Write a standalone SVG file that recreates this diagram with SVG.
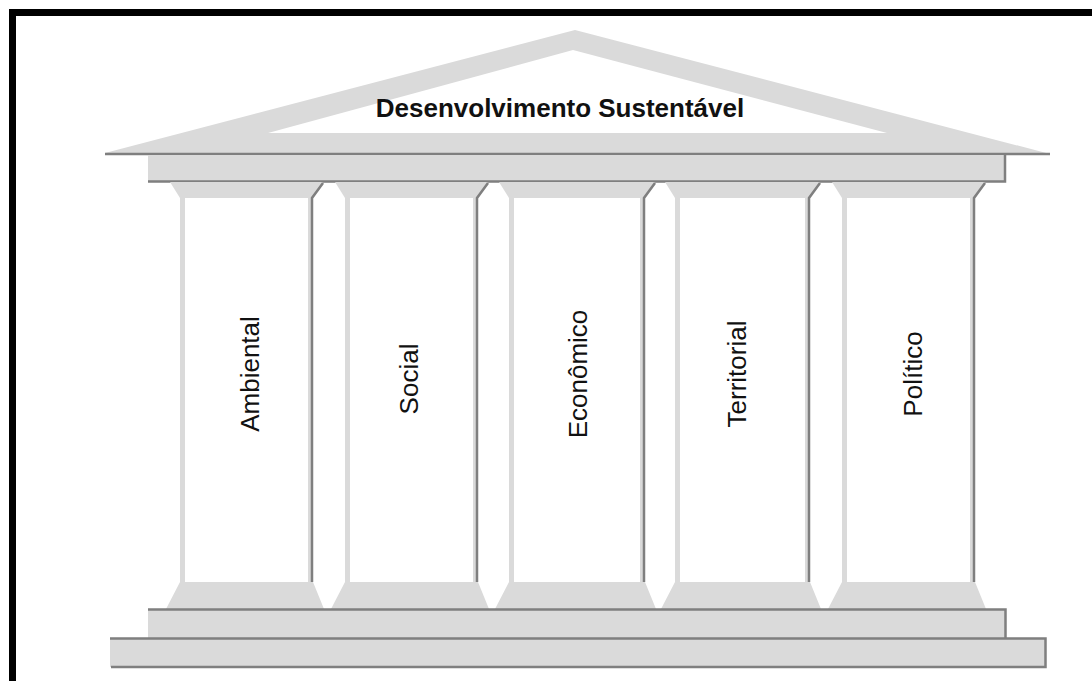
<svg xmlns="http://www.w3.org/2000/svg" width="1092" height="681" viewBox="0 0 1092 681">
<style>
.g{fill:#dadada;stroke:none}
.w{fill:#ffffff;stroke:none}
.d{fill:none;stroke:#7f7f7f;stroke-width:2.5}
.lbl{font-family:"Liberation Sans",Arial,sans-serif;font-size:26px;fill:#111;text-anchor:middle}
.title{font-family:"Liberation Sans",Arial,sans-serif;font-size:26px;font-weight:bold;fill:#111;text-anchor:middle}
</style>
<rect x="0" y="0" width="1092" height="681" fill="#ffffff"/>
<path d="M12.5 681 V12.5 H1092" fill="none" stroke="#000" stroke-width="7"/>

<g id="roof">
<polygon class="g" points="105,153 575,30 1050,154"/>
<polygon class="w" points="268,133 573,50 887,133"/>
<line class="d" x1="105" y1="154" x2="1050" y2="154"/>
<text class="title" x="560" y="117">Desenvolvimento Sustentável</text>
</g>

<g id="entablature">
<rect class="g" x="148" y="155" width="857" height="27"/>
<path class="d" d="M1005 155 V181.5 H148"/>
</g>

<g id="col-ambiental">
<polygon class="g" points="170,182 323,182 313,198 313,582 324,609 166,609 180,582 180,198"/>
<rect class="w" x="185" y="198" width="123" height="384"/>
<path class="d" d="M323 183 L312 198 V582"/>
<text class="lbl" transform="translate(259,374) rotate(-90)">Ambiental</text>
</g>

<g id="col-social">
<polygon class="g" points="335,182 488,182 478,198 478,582 489,609 331,609 345,582 345,198"/>
<rect class="w" x="350" y="198" width="123" height="384"/>
<path class="d" d="M488 183 L477 198 V582"/>
<text class="lbl" transform="translate(418,379) rotate(-90)">Social</text>
</g>

<g id="col-economico">
<polygon class="g" points="499,182 655,182 645,198 645,582 656,609 495,609 509,582 509,198"/>
<rect class="w" x="514" y="198" width="126" height="384"/>
<path class="d" d="M655 183 L644 198 V582"/>
<text class="lbl" transform="translate(587,374) rotate(-90)">Econômico</text>
</g>

<g id="col-territorial">
<polygon class="g" points="665,182 820,182 810,198 810,582 821,609 661,609 675,582 675,198"/>
<rect class="w" x="680" y="198" width="125" height="384"/>
<path class="d" d="M820 183 L809 198 V582"/>
<text class="lbl" transform="translate(746,374) rotate(-90)">Territorial</text>
</g>

<g id="col-politico">
<polygon class="g" points="832,182 985,182 975,198 975,582 986,609 828,609 842,582 842,198"/>
<rect class="w" x="847" y="198" width="123" height="384"/>
<path class="d" d="M985 183 L974 198 V582"/>
<text class="lbl" transform="translate(922,374) rotate(-90)">Político</text>
</g>

<g id="base">
<rect class="g" x="148" y="609" width="858" height="29"/>
<rect class="g" x="110" y="638" width="936" height="29"/>
<path class="d" d="M148 609.5 H1005.5 V638"/>
<path class="d" d="M110 638.5 H1045.5 V667 H111"/>
</g>
</svg>
